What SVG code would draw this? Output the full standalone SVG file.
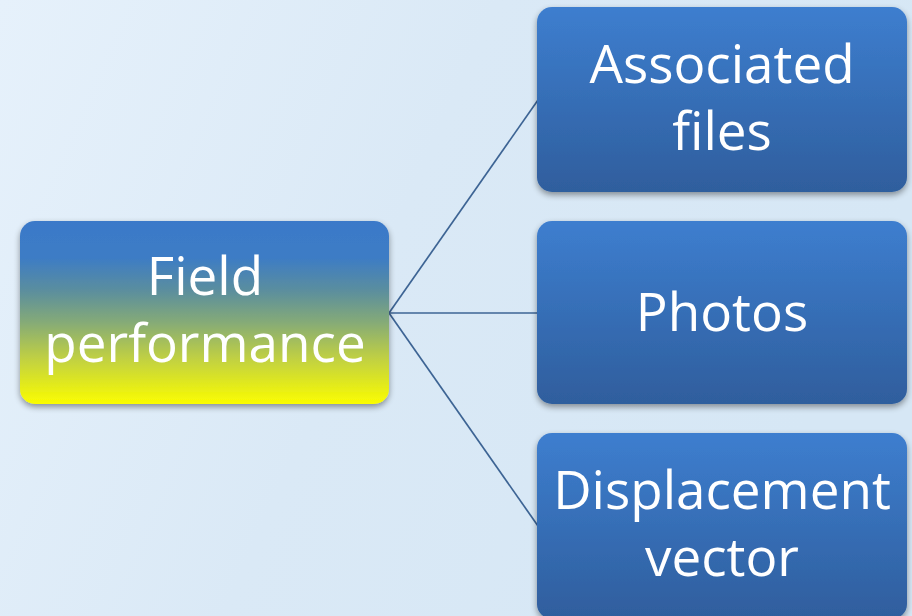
<svg xmlns="http://www.w3.org/2000/svg" width="912" height="616" viewBox="0 0 912 616">
  <defs>
    <linearGradient id="bg" x1="0" y1="0" x2="1" y2="0.3">
      <stop offset="0" stop-color="#e6f1fb"/>
      <stop offset="0.5" stop-color="#dae9f6"/>
      <stop offset="1" stop-color="#d6e7f5"/>
    </linearGradient>
    <linearGradient id="rootFill" x1="0" y1="0" x2="0" y2="1">
      <stop offset="0" stop-color="#3a79c9"/>
      <stop offset="0.2" stop-color="#3d7cc5"/>
      <stop offset="0.38" stop-color="#5b8e9e"/>
      <stop offset="0.55" stop-color="#84aa78"/>
      <stop offset="0.75" stop-color="#c0d043"/>
      <stop offset="1" stop-color="#fbfd00"/>
    </linearGradient>
    <linearGradient id="leafFill" x1="0" y1="0" x2="0" y2="1">
      <stop offset="0" stop-color="#3d7ecf"/>
      <stop offset="1" stop-color="#2f5e9d"/>
    </linearGradient>
    <filter id="shadow" x="-10%" y="-10%" width="120%" height="130%">
      <feGaussianBlur in="SourceAlpha" stdDeviation="3"/>
      <feOffset dx="0" dy="3" result="b"/>
      <feComponentTransfer><feFuncA type="linear" slope="0.4"/></feComponentTransfer>
      <feMerge><feMergeNode/><feMergeNode in="SourceGraphic"/></feMerge>
    </filter>
    <style>
      .label { font-family: "Open Sans", "Liberation Sans", sans-serif; font-size: 53px; fill: #ffffff; text-anchor: middle; }
      .link { stroke: #3d6494; stroke-width: 1.7; fill: none; }
      .leaf { fill: url(#leafFill); filter: url(#shadow); }
      .root { fill: url(#rootFill); filter: url(#shadow); }
    </style>
  </defs>

  <rect x="0" y="0" width="912" height="616" fill="url(#bg)"/>

  <!-- links from the root node to each child -->
  <g id="connectors">
    <line class="link" x1="389" y1="313" x2="538" y2="100"/>
    <line class="link" x1="389" y1="313" x2="538" y2="313"/>
    <line class="link" x1="389" y1="313" x2="538" y2="526"/>
  </g>

  <g id="node-field-performance">
    <rect class="root" x="20" y="221" width="369" height="183" rx="15"/>
    <text class="label" x="205" y="295">Field</text>
    <text class="label" x="205" y="362">performance</text>
  </g>

  <g id="node-associated-files">
    <rect class="leaf" x="537" y="7" width="370" height="185" rx="15"/>
    <text class="label" x="722" y="83">Associated</text>
    <text class="label" x="722" y="150">files</text>
  </g>

  <g id="node-photos">
    <rect class="leaf" x="537" y="221" width="370" height="183" rx="15"/>
    <text class="label" x="722" y="331">Photos</text>
  </g>

  <g id="node-displacement-vector">
    <rect class="leaf" x="537" y="433" width="370" height="186" rx="15"/>
    <text class="label" x="722" y="509">Displacement</text>
    <text class="label" x="722" y="576">vector</text>
  </g>
</svg>
